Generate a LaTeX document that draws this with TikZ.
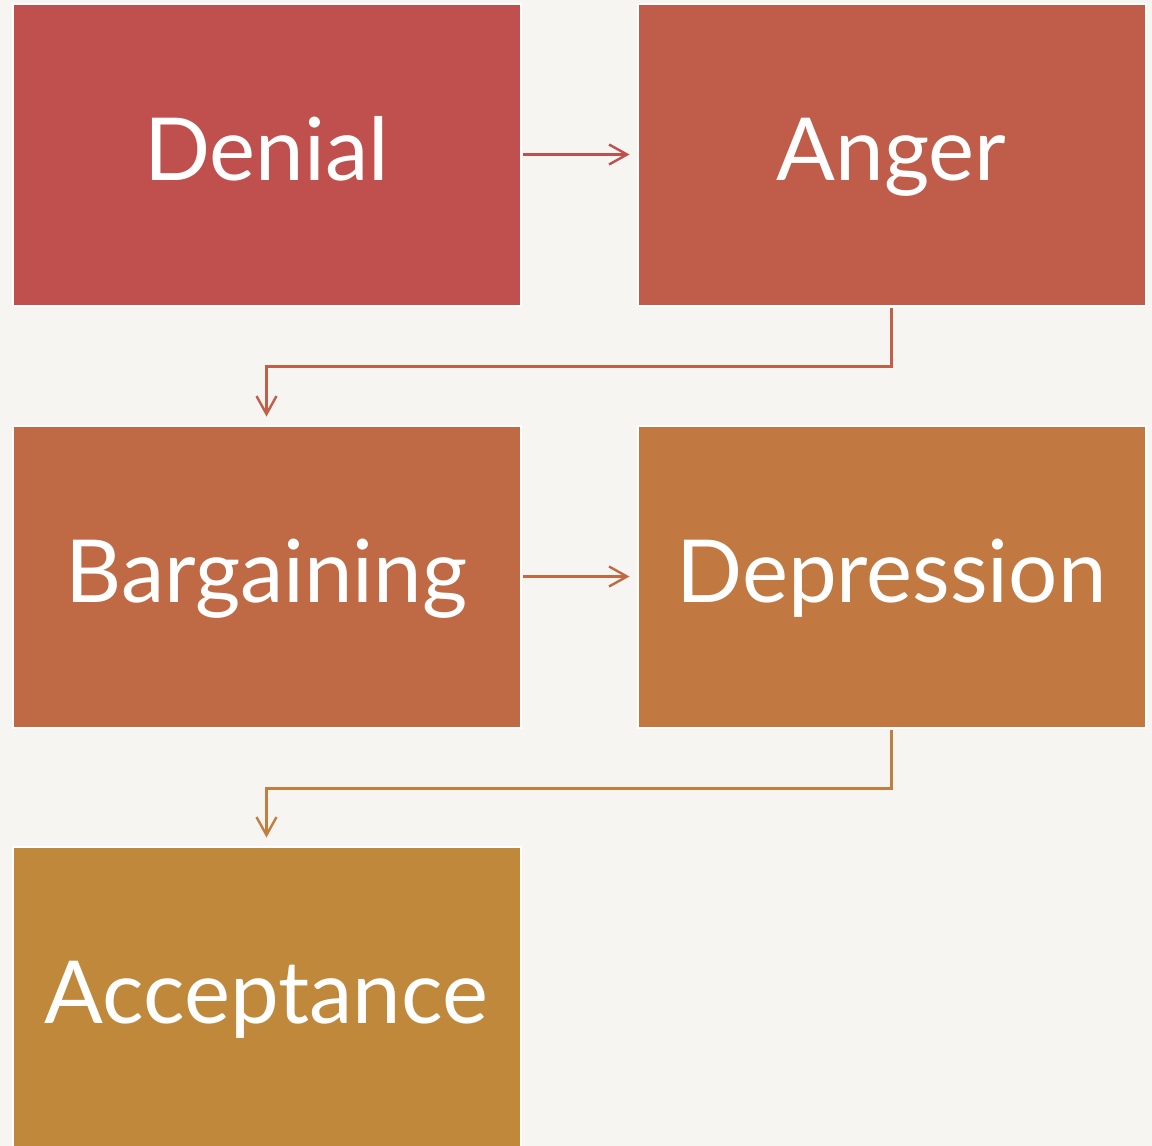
\documentclass[tikz,border=0pt]{standalone}
\usepackage{fontspec}
\setmainfont{Lato}
\usetikzlibrary{arrows.meta}

\definecolor{paper}{HTML}{F6F5F1}
\definecolor{denialred}{HTML}{C0504D}
\definecolor{angerred}{HTML}{C05C4A}
\definecolor{bargainorange}{HTML}{C06A45}
\definecolor{depressorange}{HTML}{C17941}
\definecolor{acceptgold}{HTML}{BF883B}

\tikzset{
  stage/.style={draw=white, line width=2pt, inner sep=0pt,
    minimum width=508pt, minimum height=302pt,
    text=white, font=\fontsize{87}{96}\selectfont,
    text height=70pt, text depth=19pt},
  flow/.style={line width=2.4pt,
    -{Straight Barb[length=18pt,width=20pt,line width=2.4pt]},
    shorten <=1pt}
}

\begin{document}
\begin{tikzpicture}[x=1pt, y=-1pt]
		\fill[paper] (0,0) rectangle (1152,1146);
		\useasboundingbox (0,0) rectangle (1152,1146);
		
		% the five stages
		\node[stage, fill=denialred] (denial) at (266.5,154.5) {Denial};
		\node[stage, fill=angerred] (anger) at (891.5,154.5) {Anger};
		\node[stage, fill=bargainorange] (bargaining) at (266.5,576.5) {Bargaining};
		\node[stage, fill=depressorange] (depression) at (891.5,576.5) {Depression};
		\node[stage, fill=acceptgold] (acceptance) at (266.5,997.5) {Acceptance};
		
		% arrows between them
		\draw[flow, denialred, shorten >=7pt] (denial) -- (anger);
		\draw[flow, angerred!70!bargainorange, shorten >=8pt] (anger.south) -- ++(0,60) -| (bargaining.north);
		\draw[flow, bargainorange, shorten >=7pt] (bargaining) -- (depression);
		\draw[flow, depressorange!60!acceptgold, shorten >=8pt] (depression.south) -- ++(0,60) -| (acceptance.north);
\end{tikzpicture}
\end{document}
